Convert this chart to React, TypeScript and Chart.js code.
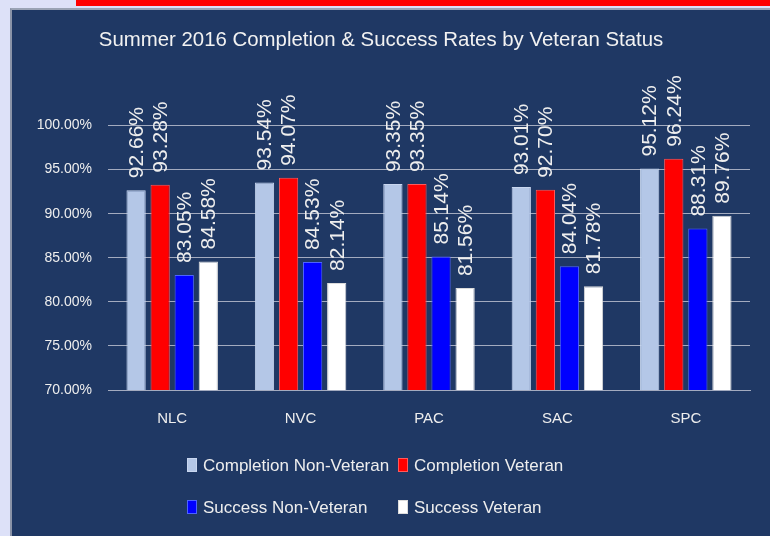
import React, { useEffect, useRef } from "react";
import { Chart, registerables } from "chart.js";

Chart.register(...registerables);

const TITLE = "Summer 2016 Completion & Success Rates by Veteran Status";
const CATEGORIES = ["NLC", "NVC", "PAC", "SAC", "SPC"];
const SERIES_NAMES = [
  "Completion Non-Veteran",
  "Completion Veteran",
  "Success Non-Veteran",
  "Success Veteran",
];
const COMPLETION_NON_VETERAN = [92.66, 93.54, 93.35, 93.01, 95.12];
const COMPLETION_VETERAN = [93.28, 94.07, 93.35, 92.7, 96.24];
const SUCCESS_NON_VETERAN = [83.05, 84.53, 85.14, 84.04, 88.31];
const SUCCESS_VETERAN = [84.58, 82.14, 81.56, 81.78, 89.76];
const Y_MIN = 70;
const Y_MAX = 100;
const Y_STEP = 5;

const FILLS = ["#b4c7e7", "#ff0000", "#0000ff", "#ffffff"];
const BORDERS = ["#c8d6ef", "#ff5a5a", "#4d63ff", "#dcdcdc"];

const FONT = "'Liberation Sans', Arial, sans-serif";
const TEXT = "#eeeeee";
const GRID = "#a3abbf";

const valueLabels = {
  id: "valueLabels",
  afterDatasetsDraw(chart: any) {
    const ctx = chart.ctx;
    ctx.save();
    ctx.fillStyle = TEXT;
    ctx.font = `21px ${FONT}`;
    ctx.textAlign = "left";
    ctx.textBaseline = "middle";
    chart.data.datasets.forEach((ds: any, di: number) => {
      const meta = chart.getDatasetMeta(di);
      meta.data.forEach((el: any, i: number) => {
        const v = ds.data[i];
        ctx.save();
        ctx.translate(el.x + 1, el.y - 12);
        ctx.rotate(-Math.PI / 2);
        ctx.fillText(v.toFixed(2) + "%", 0, 0);
        ctx.restore();
      });
    });
    ctx.restore();
  },
};

const gridLegend = {
  id: "gridLegend",
  afterDraw(chart: any, _args: any, opts: any) {
    const ctx = chart.ctx;
    const cols: number[] = opts.cols;
    const rows: number[] = opts.rows;
    ctx.save();
    ctx.font = `17px ${FONT}`;
    ctx.textAlign = "left";
    ctx.textBaseline = "middle";
    chart.data.datasets.forEach((ds: any, i: number) => {
      const x = cols[i % 2];
      const y = rows[Math.floor(i / 2)];
      ctx.fillStyle = ds.backgroundColor;
      ctx.fillRect(x, y - 7, 10, 14);
      ctx.strokeStyle = ds.borderColor;
      ctx.lineWidth = 1;
      ctx.strokeRect(x + 0.5, y - 6.5, 9, 13);
      ctx.fillStyle = TEXT;
      ctx.fillText(ds.label, x + 16, y + 1);
    });
    ctx.restore();
  },
};

export default function App() {
  const ref = useRef<HTMLCanvasElement>(null);

  useEffect(() => {
    if (!ref.current) return;
    const values = [
      COMPLETION_NON_VETERAN,
      COMPLETION_VETERAN,
      SUCCESS_NON_VETERAN,
      SUCCESS_VETERAN,
    ];
    const chart = new Chart(ref.current, {
      type: "bar",
      data: {
        labels: CATEGORIES,
        datasets: values.map((d, i) => ({
          label: SERIES_NAMES[i],
          data: d,
          backgroundColor: FILLS[i],
          borderColor: BORDERS[i],
          borderWidth: 1,
          categoryPercentage: 0.75,
          barPercentage: 0.8,
        })),
      },
      options: {
        responsive: false,
        animation: false,
        layout: { padding: { left: 0, right: 20, top: 0, bottom: 88 } },
        plugins: {
          legend: { display: false },
          tooltip: { enabled: false },
          title: {
            display: true,
            text: TITLE,
            color: "#f2f2f2",
            font: { family: FONT, size: 20.4, weight: "normal" },
            padding: { top: 18, bottom: 73 },
          },
          gridLegend: { cols: [175, 386], rows: [455, 497] },
        } as any,
        scales: {
          x: {
            grid: { display: false, drawTicks: false },
            border: { display: true, color: GRID, width: 1 },
            ticks: {
              color: TEXT,
              font: { family: FONT, size: 15 },
              padding: 20,
            },
          },
          y: {
            min: Y_MIN,
            max: Y_MAX,
            grid: { color: GRID, drawTicks: false, lineWidth: 1 },
            border: { display: false },
            ticks: {
              stepSize: Y_STEP,
              color: TEXT,
              font: { family: FONT, size: 14 },
              padding: 16,
              callback: (v: any) => Number(v).toFixed(2) + "%",
            },
            afterFit: (s: any) => {
              s.width = 96;
            },
          },
        },
      },
      plugins: [valueLabels, gridLegend],
    });
    return () => chart.destroy();
  }, []);

  return (
    <div
      style={{
        position: "fixed",
        left: 0,
        top: 0,
        width: 770,
        height: 536,
        background: "#dde1f8",
        overflow: "hidden",
      }}
    >
      <div
        style={{
          position: "absolute",
          left: 76,
          top: 0,
          width: 694,
          height: 6,
          background: "#ff0000",
        }}
      />
      <div
        style={{
          position: "absolute",
          left: 10,
          top: 8,
          width: 760,
          height: 528,
          boxSizing: "border-box",
          borderLeft: "2px solid #8a93a8",
          borderTop: "2px solid #9aa3b5",
          background: "#1f3864",
        }}
      >
        <canvas
          ref={ref}
          width={758}
          height={526}
          style={{ display: "block", width: 758, height: 526 }}
        />
      </div>
    </div>
  );
}
